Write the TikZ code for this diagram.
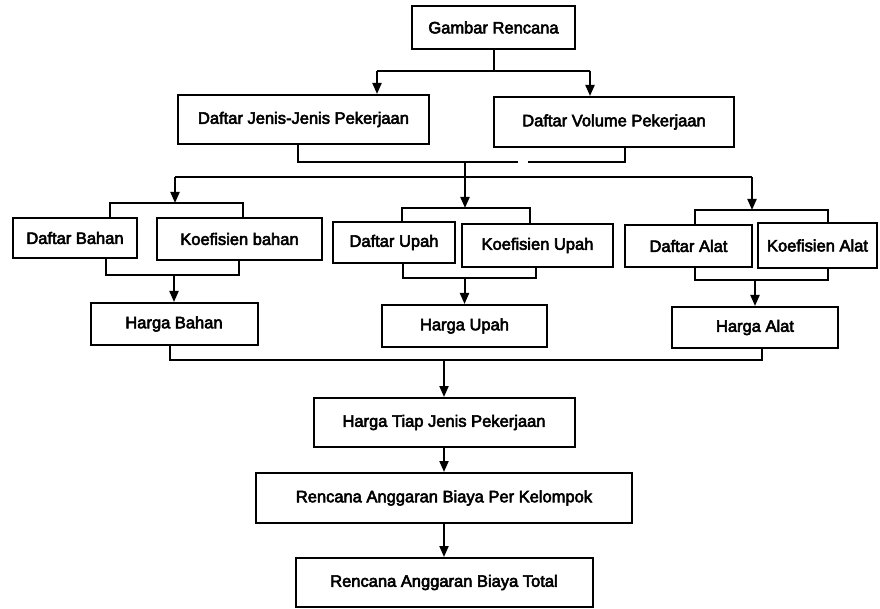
\documentclass[tikz,border=0pt]{standalone}
\usepackage{fontspec}
\newfontfamily\lblfont{Liberation Sans}
\usetikzlibrary{arrows.meta}
% heavier label text: fill and stroke the glyph outlines
\newcommand\heavytext[1]{\special{pdf:literal 2 Tr 0.55 w}#1\special{pdf:literal 0 Tr}}

\begin{document}
\begin{tikzpicture}[x=1pt,y=-1pt,
  line width=2pt,
  box/.style={draw, rectangle, inner sep=0pt, font=\lblfont\fontsize{16.5}{19}\selectfont},
  arr/.style={-{Triangle[width=9pt,length=11pt]}}]
\useasboundingbox (0,0) rectangle (880,609);

% --- boxes -----------------------------------------------------------
\node[box, minimum width=163pt, minimum height=43pt] (gambar)   at (493.5,27.5) {\heavytext{Gambar Rencana}};
\node[box, minimum width=251pt, minimum height=49pt] (jenis)    at (303.5,119.5) {\heavytext{Daftar Jenis-Jenis Pekerjaan}};
\node[box, minimum width=240pt, minimum height=50pt] (volume)   at (614,122) {\heavytext{Daftar Volume Pekerjaan}};

\node[box, minimum width=124pt, minimum height=40pt] (dbahan)   at (75,238) {\heavytext{Daftar Bahan}};
\node[box, minimum width=165pt, minimum height=42pt] (kbahan)   at (239.5,239) {\heavytext{Koefisien bahan}};
\node[box, minimum width=167pt, minimum height=42pt] (hbahan)   at (174,324) {\heavytext{Harga Bahan}};

\node[box, minimum width=122pt, minimum height=41pt] (dupah)    at (394,242.5) {\heavytext{Daftar Upah}};
\node[box, minimum width=151pt, minimum height=43pt] (kupah)    at (537.5,245.5) {\heavytext{Koefisien Upah}};
\node[box, minimum width=165pt, minimum height=42pt] (hupah)    at (464.5,326) {\heavytext{Harga Upah}};

\node[box, minimum width=127pt, minimum height=42pt] (dalat)    at (688.5,246) {\heavytext{Daftar Alat}};
\node[box, minimum width=119pt, minimum height=45pt] (kalat)    at (817.5,245.5) {\heavytext{Koefisien Alat}};
\node[box, minimum width=166pt, minimum height=41pt] (halat)    at (755,327.5) {\heavytext{Harga Alat}};

\node[box, minimum width=261pt, minimum height=49pt] (tiap)     at (444,422.5) {\heavytext{Harga Tiap Jenis Pekerjaan}};
\node[box, minimum width=376pt, minimum height=50pt] (kelompok) at (444,498) {\heavytext{Rencana Anggaran Biaya Per Kelompok}};
\node[box, minimum width=297pt, minimum height=49pt] (total)    at (444,582.5) {\heavytext{Rencana Anggaran Biaya Total}};

% --- junction points -------------------------------------------------
\coordinate (g0) at (493.5,71);
\coordinate (gL) at (377,71);
\coordinate (gR) at (590,71);

\coordinate (b1) at (298,162);
\coordinate (b2) at (625,162);
\coordinate (bc) at (465,162);
\coordinate (gapL) at (518,162);
\coordinate (gapR) at (528,162);

\coordinate (l1) at (175,177);
\coordinate (lc) at (465,177);
\coordinate (l3) at (752,177);

\coordinate (tb1) at (110,203);
\coordinate (tb2) at (243,203);
\coordinate (tu1) at (402,208);
\coordinate (tu2) at (530,208);
\coordinate (ta1) at (695,210);
\coordinate (ta2) at (828,210);

\coordinate (bb1) at (106,275);
\coordinate (bb2) at (239,275);
\coordinate (bu1) at (403,278);
\coordinate (bu2) at (536,278);
\coordinate (ba1) at (695,280);
\coordinate (ba2) at (828,280);

\coordinate (hb) at (170,360);
\coordinate (ha) at (762,360);
\coordinate (ht) at (444,360);

% --- connectors ------------------------------------------------------
\draw (gambar.south) -- (g0);
\draw (gL) -- (gR);
\draw[arr] (gL) -- (jenis.north -| gL);
\draw[arr] (gR) -- (volume.north -| gR);

\draw (jenis.south -| b1) -- (b1) -- (gapL);
\draw (gapR) -- (b2) -- (volume.south -| b2);
\draw (bc) -- (lc);

\draw (l1) -- (l3);
\draw[arr] (l1) -- (l1 |- tb1);
\draw[arr] (lc) -- (lc |- tu1);
\draw[arr] (l3) -- (l3 |- ta1);

\draw (dbahan.north -| tb1) -- (tb1) -- (tb2) -- (kbahan.north -| tb2);
\draw (dupah.north -| tu1) -- (tu1) -- (tu2) -- (kupah.north -| tu2);
\draw (dalat.north -| ta1) -- (ta1) -- (ta2) -- (kalat.north -| ta2);

\draw (dbahan.south -| bb1) -- (bb1) -- (bb2) -- (kbahan.south -| bb2);
\draw (dupah.south -| bu1) -- (bu1) -- (bu2) -- (kupah.south -| bu2);
\draw (dalat.south -| ba1) -- (ba1) -- (ba2) -- (kalat.south -| ba2);

\draw[arr] (hbahan.north |- bb1) -- (hbahan.north);
\draw[arr] (hupah.north |- bu1) -- (hupah.north);
\draw[arr] (halat.north |- ba1) -- (halat.north);

\draw (hbahan.south -| hb) -- (hb) -- (ha) -- (halat.south -| ha);
\draw[arr] (ht) -- (tiap.north);
\draw[arr] (tiap) -- (kelompok);
\draw[arr] (kelompok) -- (total);
\end{tikzpicture}
\end{document}
